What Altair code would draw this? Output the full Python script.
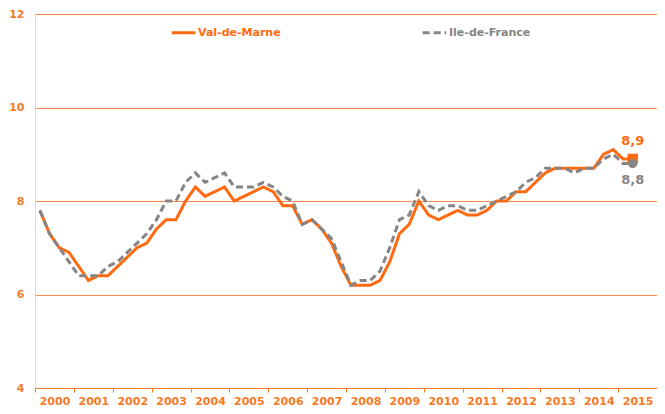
import altair as alt
import pandas as pd

years = list(range(2000, 2016))
series_names = ["Val-de-Marne", "Ile-de-France"]

# quarterly unemployment rate, 2000 Q1 -> 2015 Q2
val_de_marne = [7.8, 7.3, 7.0, 6.9, 6.6, 6.3, 6.4, 6.4, 6.6, 6.8, 7.0, 7.1,
                7.4, 7.6, 7.6, 8.0, 8.3, 8.1, 8.2, 8.3, 8.0, 8.1, 8.2, 8.3,
                8.2, 7.9, 7.9, 7.5, 7.6, 7.4, 7.1, 6.6, 6.2, 6.2, 6.2, 6.3,
                6.7, 7.3, 7.5, 8.0, 7.7, 7.6, 7.7, 7.8, 7.7, 7.7, 7.8, 8.0,
                8.0, 8.2, 8.2, 8.4, 8.6, 8.7, 8.7, 8.7, 8.7, 8.7, 9.0, 9.1,
                8.9, 8.9]
ile_de_france = [7.8, 7.3, 7.0, 6.7, 6.4, 6.4, 6.4, 6.6, 6.7, 6.9, 7.1, 7.3,
                 7.6, 8.0, 8.0, 8.4, 8.6, 8.4, 8.5, 8.6, 8.3, 8.3, 8.3, 8.4,
                 8.3, 8.1, 8.0, 7.5, 7.6, 7.4, 7.2, 6.7, 6.2, 6.3, 6.3, 6.5,
                 7.0, 7.6, 7.7, 8.2, 7.9, 7.8, 7.9, 7.9, 7.8, 7.8, 7.9, 8.0,
                 8.1, 8.2, 8.4, 8.5, 8.7, 8.7, 8.7, 8.6, 8.7, 8.7, 8.9, 9.0,
                 8.8, 8.8]
y_ticks = [4, 6, 8, 10, 12]

ORANGE = "#FF6A10"
AXIS_ORANGE = "#F57A26"
GRID = "#F8894A"
GRAY = "#858585"
FONT = "DejaVu Sans"

rows = []
for name, vals in zip(series_names, [val_de_marne, ile_de_france]):
    for i, v in enumerate(vals):
        rows.append({"t": i, "year": years[0] + i // 4, "q": i % 4 + 1,
                     "value": v, "series": name,
                     "label": f"{v:.1f}".replace(".", ",")})
df = pd.DataFrame(rows)
last_t = len(val_de_marne) - 1

n_quarters = len(years) * 4
tick_vals = [(y - years[0]) * 4 - 0.5 for y in years]
label_expr = f"toString({years[0]} + (datum.value + 0.5) / 4)"

TOTAL_W, TOTAL_H = 649, 398
Y_EXTENT = 25
PLOT_W = TOTAL_W - Y_EXTENT

x_enc = alt.X("t:Q",
              scale=alt.Scale(domain=[-0.5, n_quarters - 0.5], nice=False, zero=False),
              axis=alt.Axis(values=tick_vals, tickCount=40, labelExpr=label_expr,
                            labelOffset=PLOT_W / len(years) / 2, labelFlush=False,
                            labelOverlap=False, labelBound=False, grid=False,
                            domainColor=AXIS_ORANGE, tickColor=AXIS_ORANGE,
                            tickSize=4, labelColor=AXIS_ORANGE, labelFont=FONT,
                            labelFontSize=11, labelFontWeight="bold",
                            labelPadding=3, title=None))
y_enc = alt.Y("value:Q",
              scale=alt.Scale(domain=[4, 12], nice=False, zero=False),
              axis=alt.Axis(values=y_ticks, grid=True, gridColor=GRID,
                            gridWidth=1, domain=False, ticks=False,
                            labelColor=AXIS_ORANGE, labelFont=FONT,
                            labelFontSize=11, labelFontWeight="bold",
                            labelFlush=False, labelOverlap=False,
                            labelPadding=11, minExtent=Y_EXTENT, maxExtent=Y_EXTENT,
                            title=None))

legend = alt.Legend(orient="none", legendX=135, legendY=5,
                    direction="horizontal", title=None,
                    symbolType="stroke", symbolSize=560, symbolStrokeWidth=3,
                    labelFont=FONT, labelFontSize=11, labelFontWeight="bold",
                    labelColor=alt.ExprRef(
                        f"datum.label == '{series_names[0]}' ? '{ORANGE}' : '{GRAY}'"),
                    labelOffset=1, columnPadding=135)

color_enc = alt.Color("series:N", scale=alt.Scale(domain=series_names,
                                                  range=[ORANGE, GRAY]),
                      legend=legend)
dash_enc = alt.StrokeDash("series:N", scale=alt.Scale(domain=series_names,
                                                      range=[[1, 0], [7, 4]]),
                          legend=legend)

base = alt.Chart(df)

line_vdm = base.transform_filter(alt.datum.series == series_names[0]).mark_line(
    strokeWidth=3).encode(x=x_enc, y=y_enc, color=color_enc, strokeDash=dash_enc)
line_idf = base.transform_filter(alt.datum.series == series_names[1]).mark_line(
    strokeWidth=3).encode(x=x_enc, y=y_enc, color=color_enc, strokeDash=dash_enc)

last_vdm = base.transform_filter(
    (alt.datum.series == series_names[0]) & (alt.datum.t == last_t))
last_idf = base.transform_filter(
    (alt.datum.series == series_names[1]) & (alt.datum.t == last_t))

pt_vdm = last_vdm.mark_point(shape="square", filled=True, size=110,
                             opacity=1, color=ORANGE).encode(x="t:Q", y="value:Q")
pt_idf = last_idf.mark_point(shape="circle", filled=True, size=85,
                             opacity=1, color=GRAY).encode(x="t:Q", y="value:Q")
txt_vdm = last_vdm.mark_text(dy=-18, font=FONT, fontSize=13, fontWeight="bold",
                             color=ORANGE).encode(x="t:Q", y="value:Q", text="label:N")
txt_idf = last_idf.mark_text(dy=16, font=FONT, fontSize=13, fontWeight="bold",
                             color=GRAY).encode(x="t:Q", y="value:Q", text="label:N")

chart = alt.layer(line_vdm, line_idf, pt_vdm, pt_idf, txt_vdm, txt_idf).properties(
    width=TOTAL_W, height=TOTAL_H,
    autosize=alt.AutoSizeParams(type="fit", contains="padding"),
    padding={"left": 0, "top": 0, "right": 0, "bottom": 0},
).configure_view(stroke=None).configure(background="white")

chart.save("out.html", embed_options={"renderer": "svg", "actions": False})
